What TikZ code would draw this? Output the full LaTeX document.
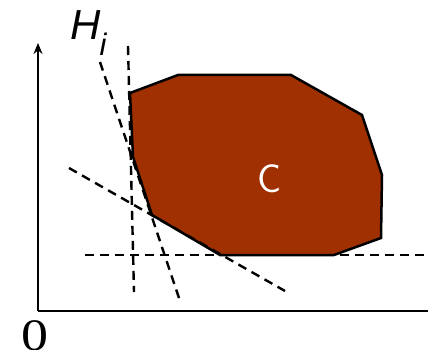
\documentclass[tikz,border=0pt]{standalone}
\usepackage{fontspec}
\newfontfamily\labelsans{Liberation Sans}
\newfontfamily\labelserif{Liberation Serif}
\usetikzlibrary{arrows.meta}
\definecolor{setfill}{RGB}{160,48,0}
\tikzset{
  axisline/.style={line width=2.5pt},
  halfplane/.style={line width=2.4pt, dash pattern=on 9pt off 6pt},
  setshape/.style={fill=setfill, draw=black, line width=2.5pt, line join=miter},
  bigtext/.style={inner sep=0pt}
}
\begin{document}
\begin{tikzpicture}[x=1pt,y=-1pt]
\useasboundingbox (0,0) rectangle (428,350);
% axes
\coordinate (O) at (38,311);
\coordinate (Ytop) at (38,43);
\coordinate (Xend) at (430,311);
\draw[axisline, -{Stealth[length=11pt,width=9pt]}] (O) -- (Ytop);
\draw[axisline] (O) -- (Xend);
% convex set
\draw[setshape] (130,93) -- (178,75) -- (291,75) -- (362,115) -- (382,175) -- (381,238) -- (334,255) -- (220,255) -- (152,215) -- (133,157) -- cycle;
% half-plane boundaries
\coordinate (a1) at (128,46); \coordinate (a2) at (134,292);
\coordinate (b1) at (100,62); \coordinate (b2) at (180,301);
\coordinate (c1) at (69,168); \coordinate (c2) at (285,291);
\coordinate (d1) at (85,255); \coordinate (d2) at (430,255);
\draw[halfplane] (a1) -- (a2);
\draw[halfplane] (b1) -- (b2);
\draw[halfplane] (c1) -- (c2);
\draw[halfplane] (d1) -- (d2);
% labels
\node[bigtext, text=white, font=\fontsize{40}{40}\selectfont\sffamily] (C) at (270,178.5) {C};
\node[bigtext, font=\fontsize{45}{45}\selectfont\labelserif, xscale=1.2] (zero) at (35,336) {0};
\node[bigtext, anchor=base west, font=\fontsize{42}{42}\selectfont\labelsans\itshape] (H) at (70,40) {H\kern-1pt\raisebox{-16pt}{\fontsize{31}{31}\selectfont i}};
\end{tikzpicture}
\end{document}
